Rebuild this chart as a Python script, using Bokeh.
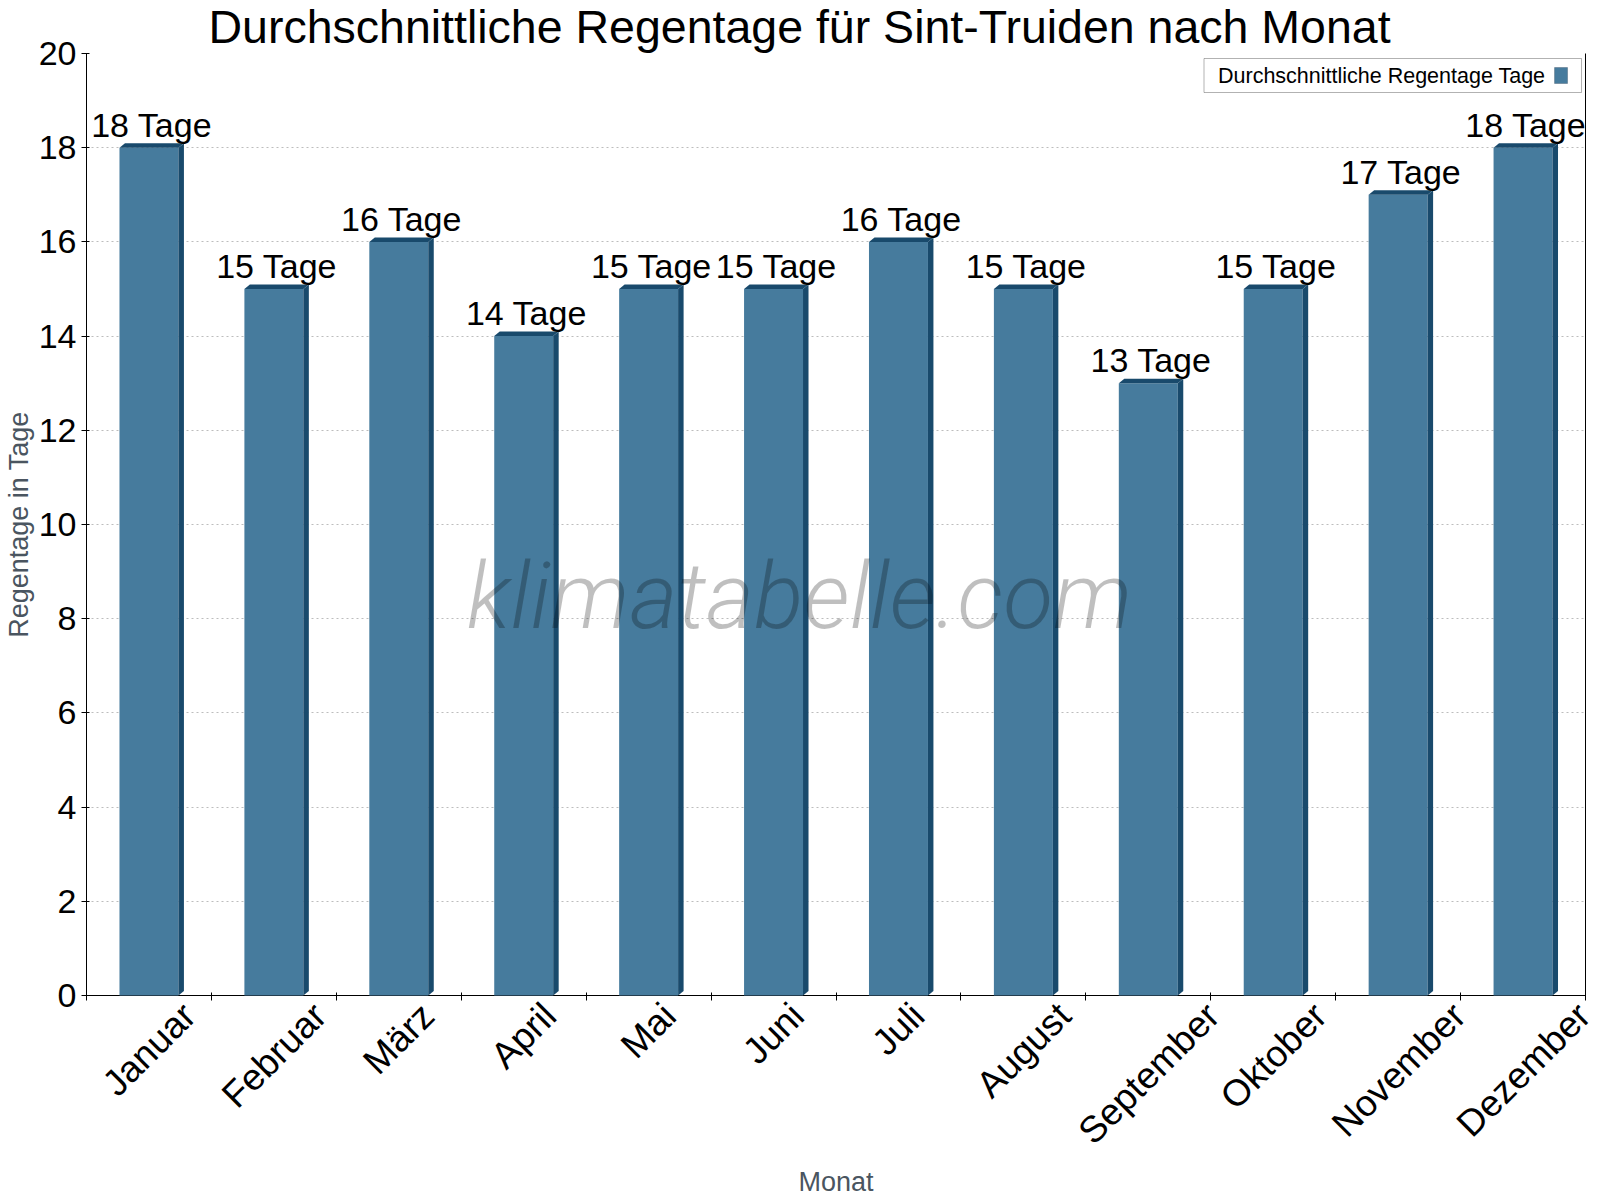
import math

from bokeh.core.properties import value
from bokeh.embed import file_html
from bokeh.models import BoxAnnotation, FixedTicker, Label, LinearAxis, Range1d
from bokeh.plotting import figure
from bokeh.resources import INLINE

# ---- data -------------------------------------------------------------
months = ["Januar", "Februar", "März", "April", "Mai", "Juni",
          "Juli", "August", "September", "Oktober", "November", "Dezember"]
rain_days = [18, 15, 16, 14, 15, 15, 16, 15, 13, 15, 17, 18]
value_labels = [f"{d} Tage" for d in rain_days]
y_ticks = list(range(0, 21, 2))

TITLE = "Durchschnittliche Regentage für Sint-Truiden nach Monat"
Y_LABEL = "Regentage in Tage"
X_LABEL = "Monat"
LEGEND_LABEL = "Durchschnittliche Regentage Tage"
WATERMARK = "klimatabelle.com"

# ---- layout / style ---------------------------------------------------
W, H = 1600, 1200
ML, MR, MT, MB = 84, 15, 53, 205      # plot area margins
FW, FH = W - ML - MR, H - MT - MB     # plot area size
Y_MAX = 20
N = len(months)
PX_X = FW / N          # pixels per category
PX_Y = FH / Y_MAX      # pixels per day

FONT = "Liberation Sans"
FRONT = "#467b9d"
DARK = "#194a6c"
AXIS_TEXT = "#4a5560"
BAR_W = 0.472
DEPTH_X = 5.5 / PX_X   # 3d side depth, in category units
DEPTH_Y = 4.5 / PX_Y   # 3d top depth, in day units
BASELINE_FIX = 0.3     # alphabetic baseline correction, in font sizes

# advance widths (1/1000 em) of the sans face, used to place rotated labels
GLYPH_W = {"J": 500, "a": 556, "n": 556, "u": 556, "r": 333, "F": 611,
           "e": 556, "b": 556, "M": 833, "ä": 556, "z": 500, "A": 667,
           "p": 556, "i": 222, "l": 222, "g": 556, "s": 500, "t": 278,
           "S": 667, "m": 833, "O": 778, "k": 500, "N": 722, "o": 556,
           "v": 500, "D": 722}


def text_em(s):
    return sum(GLYPH_W.get(c, 556) for c in s) / 1000.0


centers = [i + 0.5 for i in range(N)]
lefts = [c - BAR_W / 2 for c in centers]
rights = [c + BAR_W / 2 for c in centers]

p = figure(width=W, height=H, output_backend="svg", toolbar_location=None,
           x_range=Range1d(0, N), y_range=Range1d(0, Y_MAX),
           min_border_left=ML, min_border_right=MR,
           min_border_top=MT, min_border_bottom=MB)
p.outline_line_color = None
p.background_fill_color = "white"

# title
p.title.text = TITLE
p.title.text_font = FONT
p.title.text_font_size = "46.5px"
p.title.text_font_style = "normal"
p.title.text_color = "black"
p.title.align = "left"
p.title.offset = 122
p.title.vertical_align = "top"
p.title.standoff = -2

# grid
p.xgrid.visible = False
p.ygrid.ticker = FixedTicker(ticks=y_ticks)
p.ygrid.grid_line_color = "#bdbdbd"
p.ygrid.grid_line_dash = "2 3"
p.ygrid.grid_line_width = 1

# y axis
yax = p.yaxis[0]
yax.ticker = FixedTicker(ticks=y_ticks)
yax.major_label_text_font = FONT
yax.major_label_text_font_size = "34px"
yax.major_label_text_color = "black"
yax.major_tick_out = 5
yax.major_tick_in = 3
yax.minor_tick_line_color = None
yax.axis_line_color = "black"
yax.major_label_standoff = 5
yax.axis_label = Y_LABEL
yax.axis_label_text_font = FONT
yax.axis_label_text_font_size = "27px"
yax.axis_label_text_font_style = "normal"
yax.axis_label_text_color = AXIS_TEXT
yax.axis_label_standoff = 2

# x axis line with ticks on the category boundaries
xax = p.xaxis[0]
boundaries = list(range(N + 1))
xax.ticker = FixedTicker(ticks=boundaries)
xax.major_label_overrides = {b: "" for b in boundaries}
xax.major_label_text_font_size = "1px"
xax.major_label_standoff = 0
xax.major_tick_in = 3
xax.major_tick_out = 5
xax.major_tick_line_color = "black"
xax.minor_tick_line_color = None
xax.axis_line_color = "black"

# second axis carrying the rotated month names and the axis title
label_ticks = [c + (13.33 * text_em(m) - 0.5) / PX_X for c, m in zip(centers, months)]
name_axis = LinearAxis(ticker=FixedTicker(ticks=label_ticks),
                       major_label_overrides=dict(zip(label_ticks, months)),
                       major_label_orientation=math.pi / 4,
                       major_label_text_font=FONT,
                       major_label_text_font_size="37px",
                       major_label_text_color="black",
                       major_label_standoff=9,
                       major_tick_in=0, major_tick_out=0,
                       major_tick_line_color=None, minor_tick_line_color=None,
                       axis_line_color=None,
                       axis_label=X_LABEL, axis_label_text_font=FONT,
                       axis_label_text_font_size="27px",
                       axis_label_text_font_style="normal",
                       axis_label_text_color=AXIS_TEXT,
                       axis_label_standoff=-2)
p.add_layout(name_axis, "below")

# right frame line
p.add_layout(LinearAxis(ticker=FixedTicker(ticks=[]), axis_line_color="black",
                        major_tick_line_color=None, minor_tick_line_color=None,
                        major_label_text_font_size="0px"), "right")

# bars with a shallow 3d side and top
p.vbar(x=centers, top=rain_days, width=BAR_W, bottom=0,
       fill_color=FRONT, line_color=None, level="overlay")
p.patches(xs=[[r, r + DEPTH_X, r + DEPTH_X, r] for r in rights],
          ys=[[0, DEPTH_Y, d + DEPTH_Y, d] for d in rain_days],
          fill_color=DARK, line_color=None, level="overlay")
p.patches(xs=[[l, l + DEPTH_X, r + DEPTH_X, r] for l, r in zip(lefts, rights)],
          ys=[[d, d + DEPTH_Y, d + DEPTH_Y, d] for d in rain_days],
          fill_color=DARK, line_color=None, level="overlay")

# value labels
p.text(x=[c + DEPTH_X / 2 for c in centers], y=rain_days, text=value_labels,
       text_align="center", text_baseline="alphabetic",
       y_offset=-(13 + BASELINE_FIX * 34),
       text_font=value(FONT), text_font_size=value("34px"), text_color="black",
       level="overlay")

# watermark
p.add_layout(Label(x=(798 - ML) / PX_X, y=(FH - (624 - MT)) / PX_Y,
                   y_offset=BASELINE_FIX * 92, text=WATERMARK,
                   text_align="center", text_baseline="alphabetic",
                   text_font="Roboto Light", text_font_style="italic",
                   text_font_size="92px", text_color="black", text_alpha=0.25,
                   level="overlay"))

# legend box (label left, swatch right)
lg_w, lg_h, lg_right, lg_top = 378, 34, 4, 5
lg_l = (FW - lg_right - lg_w) / PX_X
lg_r = (FW - lg_right) / PX_X
lg_t = Y_MAX - lg_top / PX_Y
lg_b = Y_MAX - (lg_top + lg_h) / PX_Y
p.add_layout(BoxAnnotation(left=lg_l, right=lg_r, top=lg_t, bottom=lg_b,
                           fill_color="white", fill_alpha=1.0,
                           line_color="black", line_width=1, level="overlay"))
p.add_layout(Label(x=lg_l + 14 / PX_X, y=(lg_t + lg_b) / 2, text=LEGEND_LABEL,
                   text_align="left", text_baseline="middle",
                   text_font=FONT, text_font_size="21.5px", text_color="black",
                   level="overlay"))
p.add_layout(BoxAnnotation(left=lg_r - 27 / PX_X, right=lg_r - 14 / PX_X,
                           top=lg_t - 9 / PX_Y, bottom=lg_t - 25 / PX_Y,
                           fill_color=FRONT, fill_alpha=1.0,
                           line_color="#1d3549", line_width=1, level="overlay"))

open("out.html", "w").write(file_html(p, INLINE))
